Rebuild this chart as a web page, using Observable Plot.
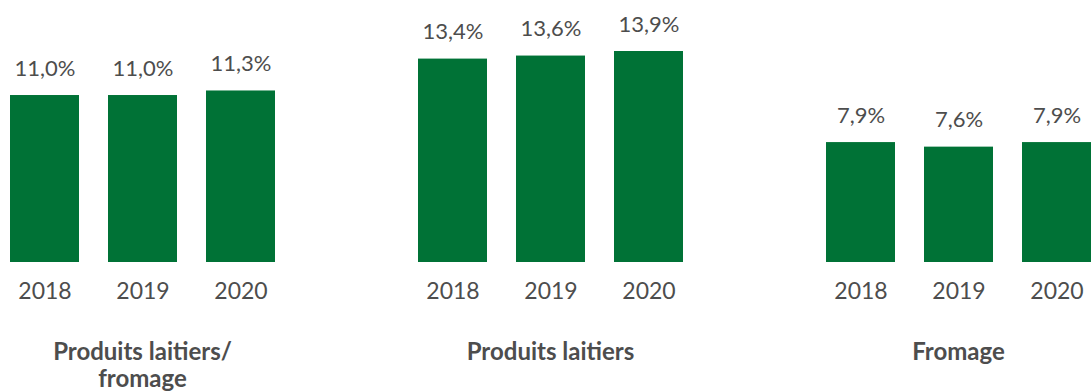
<!DOCTYPE html>
<html>
<head>
<meta charset="utf-8">
<script src="https://cdn.jsdelivr.net/npm/d3@7"></script>
<script src="https://cdn.jsdelivr.net/npm/@observablehq/plot@0.6"></script>
<style>
  html, body { margin: 0; padding: 0; background: #fff; }
  svg { display: block; }
</style>
</head>
<body>
<div id="chart"></div>
<script>
const categories = ["Produits laitiers/\nfromage", "Produits laitiers", "Fromage"];
const years = ["2018", "2019", "2020"];
const valuesLaitiersFromage = [11.0, 11.0, 11.3];
const valuesLaitiers = [13.4, 13.6, 13.9];
const valuesFromage = [7.9, 7.6, 7.9];

const series = [valuesLaitiersFromage, valuesLaitiers, valuesFromage];
const data = [];
categories.forEach((c, i) => years.forEach((y, j) => data.push({cat: c, year: y, value: series[i][j]})));
const titles = categories.map(c => ({cat: c}));

const fmt = v => v.toFixed(1).replace(".", ",") + "%";
const green = "#007236";
const grey = "#4d4d4d";

const chart = Plot.plot({
  width: 1091,
  height: 392,
  marginTop: 51,
  marginBottom: 130,
  marginLeft: 9,
  marginRight: 0,
  style: {fontFamily: "Lato, sans-serif", fontSize: "22px", color: grey, background: "#fff"},
  fx: {domain: categories, paddingInner: 0.349, paddingOuter: 0, axis: null, label: null},
  x: {domain: years, paddingInner: 0.3, paddingOuter: 0, label: null},
  y: {domain: [0, 13.9], axis: null},
  marks: [
    Plot.barY(data, {fx: "cat", x: "year", y: "value", fill: green}),
    Plot.text(data, {fx: "cat", x: "year", y: "value", text: d => fmt(d.value), lineAnchor: "bottom", dy: -20, fill: grey, fontSize: 22, fontWeight: 400, style: "letter-spacing:1.5px"}),
    Plot.axisX({tickSize: 0, tickPadding: 20, fontSize: 23, fontWeight: 400, fill: grey, label: null}),
    Plot.text(titles, {fx: "cat", text: "cat", frameAnchor: "bottom", lineAnchor: "top", dy: 79, lineHeight: 1.1, fontSize: 24, fontWeight: "bold", fill: grey})
  ]
});
document.getElementById("chart").appendChild(chart);
</script>
</body>
</html>
